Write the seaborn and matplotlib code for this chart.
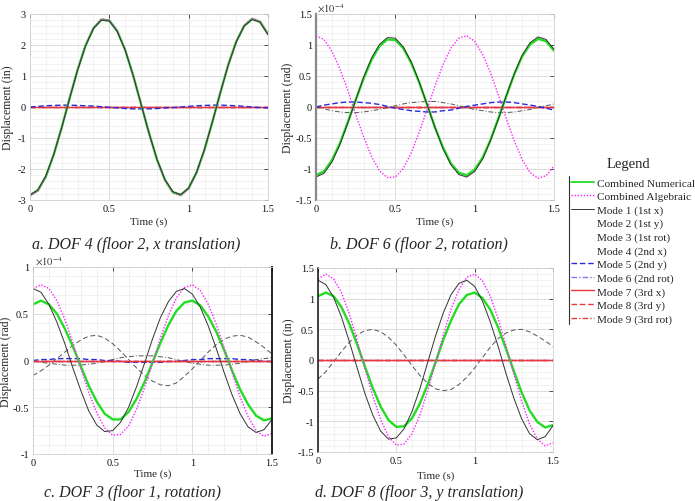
import numpy as np
import pandas as pd
import matplotlib
matplotlib.use("Agg")
import matplotlib.pyplot as plt
import matplotlib.ticker as mtick
from matplotlib.lines import Line2D
import seaborn as sns

# time axis (s)
time_s = [0.00, 0.05, 0.10, 0.15, 0.20, 0.25, 0.30, 0.35, 0.40, 0.45, 0.50,
          0.55, 0.60, 0.65, 0.70, 0.75, 0.80, 0.85, 0.90, 0.95, 1.00,
          1.05, 1.10, 1.15, 1.20, 1.25, 1.30, 1.35, 1.40, 1.45, 1.50]

flat_zero = [0.0, 0.0, 0.0, 0.0, 0.0, 0.0, 0.0, 0.0, 0.0, 0.0, 0.0,
             0.0, 0.0, 0.0, 0.0, 0.0, 0.0, 0.0, 0.0, 0.0, 0.0,
             0.0, 0.0, 0.0, 0.0, 0.0, 0.0, 0.0, 0.0, 0.0, 0.0]

# a. DOF 4 (in)
a_numerical = [-2.85, -2.69, -2.24, -1.53, -0.66, 0.29, 1.20, 1.98, 2.54, 2.82, 2.79, 2.45, 1.84, 1.02, 0.09, -0.84,
               -1.69, -2.35, -2.75, -2.84, -2.62, -2.11, -1.37, -0.47, 0.47, 1.37, 2.11, 2.62, 2.84, 2.75, 2.35]
a_algebraic = [-2.87, -2.71, -2.25, -1.54, -0.67, 0.29, 1.21, 2.00, 2.56, 2.84, 2.81, 2.47, 1.85, 1.03, 0.10, -0.85,
               -1.70, -2.37, -2.77, -2.86, -2.64, -2.13, -1.38, -0.48, 0.48, 1.38, 2.13, 2.64, 2.86, 2.77, 2.37]
a_mode1 = [-2.83, -2.67, -2.22, -1.52, -0.66, 0.28, 1.19, 1.97, 2.53, 2.80, 2.77, 2.43, 1.83, 1.02, 0.09, -0.84,
           -1.68, -2.33, -2.73, -2.82, -2.61, -2.10, -1.36, -0.47, 0.47, 1.36, 2.10, 2.61, 2.82, 2.73, 2.33]
a_mode5 = [0.00, 0.02, 0.04, 0.05, 0.06, 0.06, 0.05, 0.04, 0.03, 0.01, -0.01, -0.03, -0.05, -0.06, -0.06, -0.06,
           -0.05, -0.03, -0.02, 0.00, 0.02, 0.04, 0.05, 0.06, 0.06, 0.05, 0.04, 0.02, 0.00, -0.02, -0.03]

# b. DOF 6 (rad, x1e-4)
b_numerical = [-1.10, -1.04, -0.86, -0.59, -0.25, 0.11, 0.46, 0.76, 0.98, 1.09, 1.08, 0.95, 0.71, 0.40, 0.04, -0.33,
               -0.65, -0.91, -1.06, -1.10, -1.01, -0.82, -0.53, -0.18, 0.18, 0.53, 0.82, 1.01, 1.10, 1.06, 0.91]
b_algebraic = [1.15, 1.09, 0.90, 0.62, 0.27, -0.12, -0.48, -0.80, -1.03, -1.14, -1.13, -0.99, -0.74, -0.41, -0.04, 0.34,
               0.68, 0.95, 1.11, 1.15, 1.06, 0.85, 0.55, 0.19, -0.19, -0.55, -0.85, -1.06, -1.15, -1.11, -0.95]
b_mode1 = [-1.13, -1.07, -0.89, -0.61, -0.26, 0.11, 0.48, 0.79, 1.01, 1.12, 1.11, 0.97, 0.73, 0.41, 0.04, -0.33,
           -0.67, -0.93, -1.09, -1.13, -1.04, -0.84, -0.54, -0.19, 0.19, 0.54, 0.84, 1.04, 1.13, 1.09, 0.93]
b_mode3 = [0.00, -0.03, -0.06, -0.08, -0.09, -0.09, -0.08, -0.06, -0.04, -0.01, 0.02, 0.05, 0.07, 0.08, 0.09, 0.09,
           0.07, 0.05, 0.02, -0.01, -0.04, -0.06, -0.08, -0.09, -0.09, -0.08, -0.06, -0.04, -0.01, 0.02, 0.05]
b_mode5 = [0.00, 0.03, 0.05, 0.07, 0.08, 0.08, 0.07, 0.06, 0.04, 0.01, -0.02, -0.04, -0.06, -0.07, -0.08, -0.08,
           -0.06, -0.05, -0.02, 0.01, 0.03, 0.05, 0.07, 0.08, 0.08, 0.07, 0.05, 0.03, 0.01, -0.02, -0.05]

# c. DOF 3 (rad, x1e-4)
c_numerical = [0.60, 0.64, 0.60, 0.50, 0.34, 0.15, -0.06, -0.27, -0.44, -0.57, -0.63, -0.63, -0.55, -0.41, -0.23, -0.02,
               0.19, 0.38, 0.53, 0.62, 0.64, 0.59, 0.47, 0.31, 0.11, -0.11, -0.31, -0.47, -0.59, -0.64, -0.62]
c_algebraic = [0.77, 0.81, 0.77, 0.64, 0.44, 0.19, -0.08, -0.34, -0.56, -0.72, -0.80, -0.79, -0.70, -0.52, -0.29, -0.03,
               0.24, 0.48, 0.67, 0.78, 0.81, 0.75, 0.60, 0.39, 0.13, -0.13, -0.39, -0.60, -0.75, -0.81, -0.78]
c_mode1 = [0.77, 0.73, 0.60, 0.41, 0.18, -0.08, -0.32, -0.54, -0.69, -0.76, -0.75, -0.66, -0.50, -0.28, -0.03, 0.23,
           0.46, 0.63, 0.74, 0.77, 0.71, 0.57, 0.37, 0.13, -0.13, -0.37, -0.57, -0.71, -0.77, -0.74, -0.63]
c_mode2 = [-0.16, -0.11, -0.05, 0.02, 0.09, 0.16, 0.22, 0.26, 0.27, 0.24, 0.18, 0.10, 0.01, -0.08, -0.16, -0.22,
           -0.26, -0.27, -0.24, -0.17, -0.09, 0.00, 0.09, 0.17, 0.23, 0.26, 0.27, 0.25, 0.20, 0.14, 0.07]
c_mode3 = [0.00, -0.02, -0.03, -0.04, -0.05, -0.05, -0.05, -0.04, -0.03, -0.01, 0.01, 0.03, 0.04, 0.05, 0.05, 0.05,
           0.04, 0.03, 0.01, -0.01, -0.03, -0.04, -0.05, -0.05, -0.05, -0.04, -0.03, -0.01, 0.01, 0.02, 0.03]
c_mode5 = [0.00, 0.01, 0.01, 0.02, 0.02, 0.02, 0.02, 0.01, 0.01, 0.00, 0.00, -0.01, -0.02, -0.02, -0.02, -0.02,
           -0.02, -0.01, -0.01, 0.00, 0.01, 0.01, 0.02, 0.02, 0.02, 0.02, 0.01, 0.01, 0.00, -0.01, -0.01]

# d. DOF 8 (in)
d_numerical = [1.04, 1.10, 1.04, 0.86, 0.59, 0.25, -0.11, -0.46, -0.76, -0.98, -1.09, -1.08, -0.95, -0.71, -0.40, -0.04,
               0.33, 0.65, 0.91, 1.06, 1.10, 1.01, 0.82, 0.53, 0.18, -0.18, -0.53, -0.82, -1.01, -1.10, -1.06]
d_algebraic = [1.32, 1.40, 1.32, 1.10, 0.75, 0.32, -0.14, -0.59, -0.97, -1.25, -1.39, -1.37, -1.20, -0.90, -0.50, -0.05,
               0.41, 0.83, 1.15, 1.35, 1.40, 1.29, 1.04, 0.67, 0.23, -0.23, -0.67, -1.04, -1.29, -1.40, -1.35]
d_mode1 = [1.30, 1.23, 1.02, 0.70, 0.30, -0.13, -0.55, -0.90, -1.16, -1.29, -1.27, -1.12, -0.84, -0.47, -0.04, 0.39,
           0.77, 1.07, 1.25, 1.30, 1.20, 0.96, 0.62, 0.22, -0.22, -0.62, -0.96, -1.20, -1.30, -1.25, -1.07]
d_mode2 = [-0.31, -0.19, -0.03, 0.14, 0.29, 0.41, 0.48, 0.50, 0.46, 0.37, 0.24, 0.08, -0.09, -0.25, -0.38, -0.47,
           -0.50, -0.48, -0.40, -0.28, -0.13, 0.04, 0.21, 0.35, 0.44, 0.49, 0.50, 0.46, 0.39, 0.31, 0.22]

labels = ["Combined Numerical", "Combined Algebraic", "Mode 1 (1st x)", "Mode 2 (1st y)",
          "Mode 3 (1st rot)", "Mode 4 (2nd x)", "Mode 5 (2nd y)", "Mode 6 (2nd rot)",
          "Mode 7 (3rd x)", "Mode 8 (3rd y)", "Mode 9 (3rd rot)"]

colors = {labels[0]: "#22dd22", labels[1]: "#ff22ff", labels[2]: "#333333", labels[3]: "#555555",
          labels[4]: "#555555", labels[5]: "#555555", labels[6]: "#2a2ad8", labels[7]: "#8878f0",
          labels[8]: "#e8383d", labels[9]: "#e8383d", labels[10]: "#e8383d"}
dashes = {labels[0]: "", labels[1]: (1, 1.2), labels[2]: "", labels[3]: (5, 3),
          labels[4]: (5, 2, 1, 2), labels[5]: (1, 1.5), labels[6]: (4, 2), labels[7]: (4, 1.5, 1, 1.5),
          labels[8]: "", labels[9]: (4, 2), labels[10]: (4, 1.5, 1, 1.5)}
widths = {labels[0]: 1.7, labels[1]: 1.0, labels[2]: 0.7, labels[3]: 0.7, labels[4]: 0.7, labels[5]: 0.7,
          labels[6]: 1.0, labels[7]: 1.0, labels[8]: 1.0, labels[9]: 1.0, labels[10]: 1.0}

panels = {
    "a": [(labels[7], flat_zero), (labels[8], flat_zero), (labels[9], flat_zero), (labels[10], flat_zero),
          (labels[6], a_mode5), (labels[0], a_numerical), (labels[1], a_algebraic), (labels[2], a_mode1)],
    "b": [(labels[7], flat_zero), (labels[9], flat_zero), (labels[10], flat_zero), (labels[8], flat_zero),
          (labels[4], b_mode3), (labels[6], b_mode5), (labels[0], b_numerical), (labels[1], b_algebraic),
          (labels[2], b_mode1)],
    "c": [(labels[3], c_mode2), (labels[4], c_mode3), (labels[7], flat_zero), (labels[6], c_mode5),
          (labels[9], flat_zero), (labels[10], flat_zero), (labels[8], flat_zero),
          (labels[0], c_numerical), (labels[1], c_algebraic), (labels[2], c_mode1)],
    "d": [(labels[3], d_mode2), (labels[7], flat_zero), (labels[9], flat_zero), (labels[10], flat_zero),
          (labels[8], flat_zero), (labels[0], d_numerical), (labels[1], d_algebraic), (labels[2], d_mode1)],
}

sns.set_theme(style="white")
plt.rcParams["font.family"] = ["Liberation Serif", "DejaVu Serif"]
plt.rcParams["mathtext.fontset"] = "stix"
plt.rcParams["axes.unicode_minus"] = False

W, H = 695, 502
fig = plt.figure(figsize=(6.95, 5.02), dpi=100)


def px_axes(l, t, r, b):
    return fig.add_axes([l / W, 1 - b / H, (r - l) / W, (b - t) / H])


def draw_panel(ax, key, ylim, ystep, yminor, ylabel, xlab_y, ylab_x):
    series = panels[key]
    df = pd.concat([pd.DataFrame({"t": time_s, "disp": v, "series": n}) for n, v in series],
                   ignore_index=True)
    order = [n for n, _ in series]
    sns.lineplot(data=df, x="t", y="disp", hue="series", style="series", size="series",
                 hue_order=order, style_order=order, size_order=order,
                 palette=colors, dashes=dashes, sizes=widths,
                 estimator=None, sort=False, legend=False, ax=ax)
    ax.set_xlim(0, 1.5)
    ax.set_ylim(*ylim)
    ax.xaxis.set_major_locator(mtick.MultipleLocator(0.5))
    ax.xaxis.set_minor_locator(mtick.MultipleLocator(0.1))
    ax.yaxis.set_major_locator(mtick.MultipleLocator(ystep))
    ax.yaxis.set_minor_locator(mtick.MultipleLocator(yminor))
    ax.xaxis.set_major_formatter(mtick.FormatStrFormatter("%g"))
    ax.yaxis.set_major_formatter(mtick.FormatStrFormatter("%g"))
    ax.grid(which="major", color="#d6d6d6", lw=0.6)
    ax.grid(which="minor", color="#ededed", lw=0.5)
    ax.set_axisbelow(True)
    ax.tick_params(which="major", direction="in", length=3, width=0.6, color="#333333",
                   top=True, right=True, labelsize=7.5, pad=3, labelcolor="#111111")
    ax.tick_params(which="minor", length=0)
    for s in ax.spines.values():
        s.set_color("#d0d0d0")
        s.set_linewidth(0.6)
    ax.set_xlabel("Time (s)", fontsize=8)
    ax.set_ylabel(ylabel, fontsize=8.5)
    ax.xaxis.set_label_coords(0.5, xlab_y)
    ax.yaxis.set_label_coords(ylab_x, 0.5)


ax_a = px_axes(30, 15, 268, 201)
draw_panel(ax_a, "a", (-3, 3), 1, 0.2, "Displacement (in)", -0.089, -0.067)

ax_b = px_axes(316, 15, 554, 201)
draw_panel(ax_b, "b", (-1.5, 1.5), 0.5, 0.1, "Displacement (rad)", -0.089, -0.092)
ax_b.spines["left"].set_color("#888888")
ax_b.spines["left"].set_linewidth(1.6)
ax_b.text(0.005, 1.0, r"$\times 10^{-4}$", transform=ax_b.transAxes, fontsize=7.5,
          ha="left", va="bottom", color="#333333")

ax_c = px_axes(33, 268, 272, 455)
draw_panel(ax_c, "c", (-1, 1), 0.5, 0.1, "Displacement (rad)", -0.078, -0.088)
ax_c.spines["right"].set_color("#111111")
ax_c.spines["right"].set_linewidth(1.3)
ax_c.text(0.01, 1.0, r"$\times 10^{-4}$", transform=ax_c.transAxes, fontsize=7.5,
          ha="left", va="bottom", color="#333333")

ax_d = px_axes(318, 269, 553, 453)
draw_panel(ax_d, "d", (-1.5, 1.5), 0.5, 0.1, "Displacement (in)", -0.10, -0.098)
ax_d.spines["left"].set_color("#111111")
ax_d.spines["left"].set_linewidth(1.1)

# subplot captions
captions = [("a. DOF 4 (floor 2, x translation)", 136, 245), ("b. DOF 6 (floor 2, rotation)", 419, 245),
            ("c. DOF 3 (floor 1, rotation)", 132, 493), ("d. DOF 8 (floor 3, y translation)", 419, 493)]
for txt, x, y in captions:
    fig.text(x / W, 1 - y / H, txt, fontsize=11.5, style="italic", ha="center", va="center")

# legend
handles = []
for lab in labels:
    if lab in (labels[3], labels[4], labels[5]):
        handles.append(Line2D([], [], color="none"))
    else:
        d = dashes[lab]
        ls = "-" if d == "" else (0, d)
        handles.append(Line2D([], [], color=colors[lab], lw=min(widths[lab], 1.3), linestyle=ls))
fig.legend(handles, labels, loc="upper left", bbox_to_anchor=(571 / W, 1 - 179 / H),
           frameon=False, fontsize=8.1, handlelength=2.0, handletextpad=0.3,
           labelspacing=0.31, borderpad=0, borderaxespad=0)
fig.text(628 / W, 1 - 165 / H, "Legend", fontsize=10.5, ha="center", va="center")
fig.add_artist(Line2D([569 / W, 569 / W], [1 - 177 / H, 1 - 325 / H], transform=fig.transFigure,
                      color="#333333", lw=0.8))

fig.savefig("out.png", dpi=100)
